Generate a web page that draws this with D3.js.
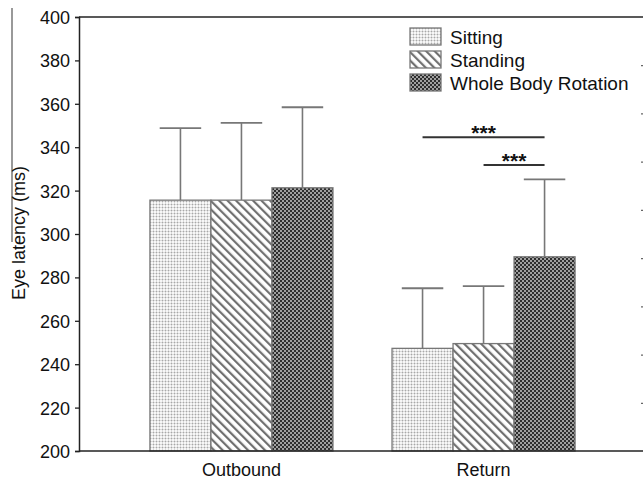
<!DOCTYPE html>
<html>
<head>
<meta charset="utf-8">
<script src="https://cdn.jsdelivr.net/npm/d3@7/dist/d3.min.js"></script>
<style>
  html, body { margin: 0; padding: 0; background: #fff; }
  svg { display: block; }
  text { font-family: Arial, "Liberation Sans", Helvetica, sans-serif; }
</style>
</head>
<body>
<svg id="chart" width="643" height="481"></svg>
<script>
// Eye latency by movement direction and posture condition (mean + SD)
const categories = ["Outbound", "Return"];
const conditions = ["Sitting", "Standing", "Whole Body Rotation"];
const sittingMean  = [315.6, 247.3];
const standingMean = [315.6, 249.5];
const rotationMean = [321.3, 289.5];
const sittingSD  = [33.2, 27.7];
const standingSD = [35.6, 26.5];
const rotationSD = [37.1, 35.7];
const yTicks = [200, 220, 240, 260, 280, 300, 320, 340, 360, 380, 400];
// significance brackets within the Return group
const sigPairs = [
  { cat: "Return", from: "Sitting",  to: "Whole Body Rotation", level: 344.6, label: "***" },
  { cat: "Return", from: "Standing", to: "Whole Body Rotation", level: 331.8, label: "***" }
];

const means = [sittingMean, standingMean, rotationMean];
const sds = [sittingSD, standingSD, rotationSD];
const rows = [];
conditions.forEach((c, ci) => categories.forEach((cat, gi) => {
  rows.push({ cond: c, cat, mean: means[ci][gi], sd: sds[ci][gi] });
}));

const svg = d3.select("#chart");
const W = 643;
const plotLeft = 79, plotTop = 17, plotBottom = 451;
const FONT = "Arial, 'Liberation Sans', sans-serif";

// ---- fill patterns ----
const defs = svg.append("defs");
// Sitting: fine light grid with dots
const pSit = defs.append("pattern").attr("id", "pat-sit")
  .attr("patternUnits", "userSpaceOnUse").attr("width", 3).attr("height", 3);
pSit.append("rect").attr("width", 3).attr("height", 3).attr("fill", "#f7f7f7");
pSit.append("rect").attr("x", 0).attr("y", 0).attr("width", 3).attr("height", 1).attr("fill", "#dadada");
pSit.append("rect").attr("x", 0).attr("y", 0).attr("width", 1).attr("height", 3).attr("fill", "#dadada");
pSit.append("rect").attr("x", 0).attr("y", 0).attr("width", 1).attr("height", 1).attr("fill", "#a8a8a8");
// Standing: diagonal hatch (\\\)
const pStd = defs.append("pattern").attr("id", "pat-std")
  .attr("patternUnits", "userSpaceOnUse").attr("width", 6).attr("height", 6)
  .attr("patternTransform", "rotate(-45)");
pStd.append("rect").attr("width", 6).attr("height", 6).attr("fill", "#fff");
pStd.append("rect").attr("x", 0).attr("y", 0).attr("width", 2.2).attr("height", 6).attr("fill", "#707070");
// Whole Body Rotation: dark checkerboard
const pRot = defs.append("pattern").attr("id", "pat-rot")
  .attr("patternUnits", "userSpaceOnUse").attr("width", 4).attr("height", 4);
pRot.append("rect").attr("width", 4).attr("height", 4).attr("fill", "#a0a0a0");
pRot.append("rect").attr("x", 0).attr("y", 0).attr("width", 2).attr("height", 2).attr("fill", "#2e2e2e");
pRot.append("rect").attr("x", 2).attr("y", 2).attr("width", 2).attr("height", 2).attr("fill", "#2e2e2e");

const fills = { "Sitting": "url(#pat-sit)", "Standing": "url(#pat-std)", "Whole Body Rotation": "url(#pat-rot)" };

// ---- scales ----
const x0 = d3.scaleBand().domain(categories)
  .range([plotLeft, 646]).paddingInner(0.244).paddingOuter(0.293);
const x1 = d3.scaleBand().domain(conditions).range([0, x0.bandwidth()]);
const y = d3.scaleLinear().domain([200, 400]).range([plotBottom, plotTop]);

// top frame line
svg.append("line").attr("x1", plotLeft).attr("x2", W).attr("y1", y(400)).attr("y2", y(400))
  .attr("stroke", "#222").attr("stroke-width", 1.5);

// right-hand edge ticks (axis continuing past the frame)
const yRight = d3.scaleLinear().domain([0, 9]).range([plotBottom, plotTop]);
const rightAxis = svg.append("g").attr("transform", `translate(644,0)`)
  .call(d3.axisLeft(yRight).tickValues(d3.range(1, 9)).tickSize(3).tickFormat(""));
rightAxis.select(".domain").remove();
rightAxis.selectAll("line").attr("stroke", "#666").attr("stroke-width", 1.2);

// vertical rule at the far left
svg.append("line").attr("x1", 12).attr("x2", 12).attr("y1", 8).attr("y2", 242)
  .attr("stroke", "#777").attr("stroke-width", 1.5);

// ---- error bars (drawn under bars) ----
const eb = svg.append("g");
rows.forEach(d => {
  const xc = x0(d.cat) + x1(d.cond) + x1.bandwidth() / 2;
  const capW = x1.bandwidth() * 0.34;
  eb.append("line").attr("x1", xc).attr("x2", xc).attr("y1", y(d.mean)).attr("y2", y(d.mean + d.sd))
    .attr("stroke", "#777").attr("stroke-width", 1.6);
  eb.append("line").attr("x1", xc - capW).attr("x2", xc + capW)
    .attr("y1", y(d.mean + d.sd)).attr("y2", y(d.mean + d.sd))
    .attr("stroke", "#777").attr("stroke-width", 1.8);
});

// ---- bars ----
svg.append("g").selectAll("rect").data(rows).join("rect")
  .attr("x", d => x0(d.cat) + x1(d.cond))
  .attr("y", d => y(d.mean))
  .attr("width", x1.bandwidth())
  .attr("height", d => y(200) - y(d.mean))
  .attr("fill", d => fills[d.cond])
  .attr("stroke", "#777").attr("stroke-width", 1.3);

// ---- significance brackets ----
const sg = svg.append("g");
sigPairs.forEach(s => {
  const xa = x0(s.cat) + x1(s.from) + x1.bandwidth() / 2;
  const xb = x0(s.cat) + x1(s.to) + x1.bandwidth() / 2;
  sg.append("line").attr("x1", xa).attr("x2", xb).attr("y1", y(s.level)).attr("y2", y(s.level))
    .attr("stroke", "#333").attr("stroke-width", 2);
  sg.append("text").attr("x", (xa + xb) / 2).attr("y", y(s.level) + 3)
    .attr("text-anchor", "middle").attr("font-size", 21).attr("font-weight", "bold")
    .attr("fill", "#111").text(s.label);
});

// ---- y axis ----
const yAxis = svg.append("g").attr("transform", `translate(${plotLeft},0)`)
  .call(d3.axisLeft(y).tickValues(yTicks).tickSize(4).tickPadding(5));
yAxis.select(".domain").attr("stroke", "#222").attr("stroke-width", 1.5);
yAxis.selectAll("line").attr("stroke", "#222").attr("stroke-width", 1.3);
yAxis.selectAll("text").attr("font-size", 18).attr("fill", "#111").attr("dy", "0.36em")
  .style("font-family", FONT);

// bottom frame line
svg.append("line").attr("x1", plotLeft).attr("x2", W).attr("y1", plotBottom).attr("y2", plotBottom)
  .attr("stroke", "#222").attr("stroke-width", 1.5);

// ---- x axis labels ----
svg.append("g").selectAll("text").data(categories).join("text")
  .attr("x", d => x0(d) + x0.bandwidth() / 2)
  .attr("y", 476)
  .attr("text-anchor", "middle").attr("font-size", 18).attr("fill", "#111")
  .text(d => d);

// y axis title
svg.append("text").attr("transform", `translate(25,233) rotate(-90)`)
  .attr("text-anchor", "middle").attr("font-size", 18).attr("fill", "#111")
  .text("Eye latency (ms)");

// ---- legend ----
const lg = svg.append("g").attr("transform", "translate(410,28)");
conditions.forEach((c, i) => {
  const gy = i * 23;
  lg.append("rect").attr("x", 0).attr("y", gy).attr("width", 31).attr("height", 17)
    .attr("fill", fills[c]).attr("stroke", "#777").attr("stroke-width", 1.3);
  lg.append("text").attr("x", 40).attr("y", gy + 16)
    .attr("font-size", 19).attr("fill", "#111").text(c);
});
</script>
</body>
</html>
